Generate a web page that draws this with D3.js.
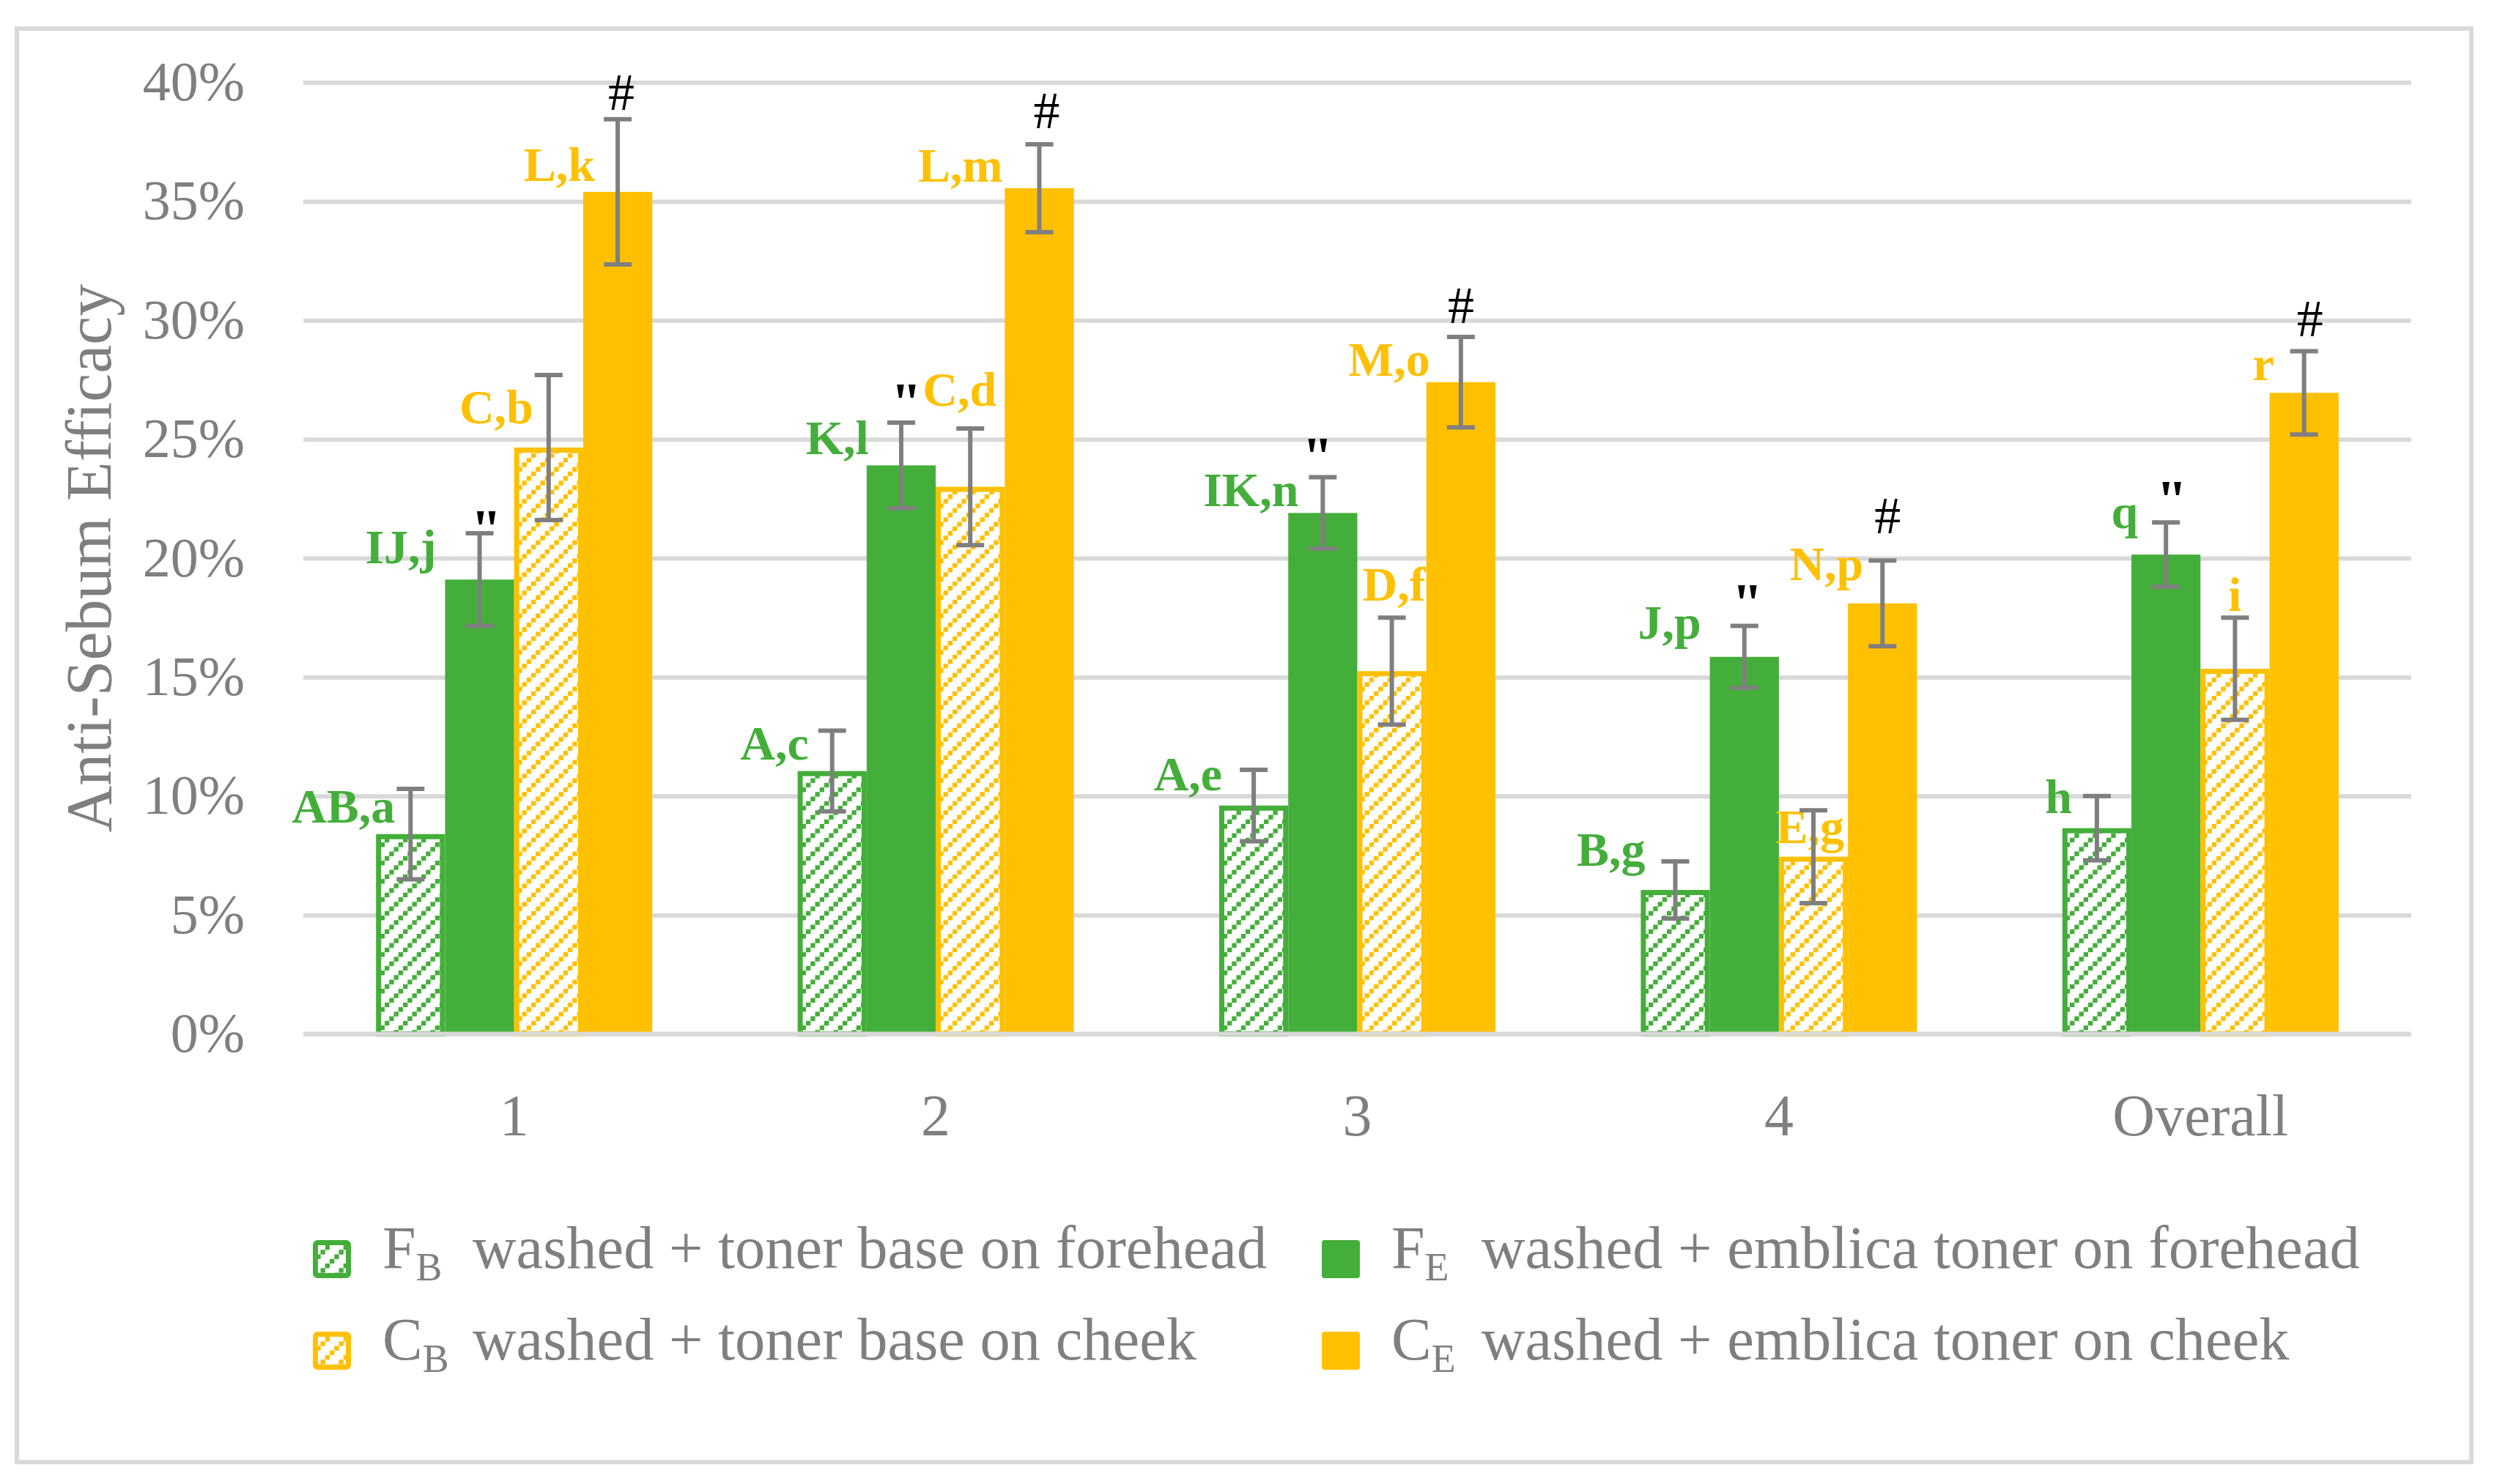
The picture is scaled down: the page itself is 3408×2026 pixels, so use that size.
<!DOCTYPE html>
<html lang="en">
<head>
  <meta charset="UTF-8" />
  <title>Anti-Sebum Efficacy</title>
  <script src="https://d3js.org/d3.v7.min.js"></script>
  <style>
    body { margin: 0; background: #fff; }
    svg, svg text { font-family: "Palatino Linotype", "Book Antiqua", Palatino, "Liberation Serif", serif; }
    svg { display: block; }
    .tick line { stroke: #d9d9d9; stroke-width: 6; }
    .domain { display: none; }
  </style>
</head>
<body>
  <div id="chart"></div>

  <script>
    // Data (values in %)
    const categories = ['1', '2', '3', '4', 'Overall'];
    const seriesKeys = ['FB', 'FE', 'CB', 'CE'];

    const valFB = [8.4, 11.05, 9.6, 6.05, 8.65];
    const errFB = [1.9, 1.7, 1.5, 1.2, 1.35];
    const valFE = [19.1, 23.9, 21.9, 15.85, 20.15];
    const errFE = [1.95, 1.8, 1.5, 1.3, 1.35];
    const valCB = [24.65, 23.0, 15.25, 7.45, 15.35];
    const errCB = [3.05, 2.45, 2.25, 1.95, 2.15];
    const valCE = [35.4, 35.55, 27.4, 18.1, 26.95];
    const errCE = [3.05, 1.85, 1.9, 1.8, 1.75];

    const lettersFB = ['AB,a', 'A,c', 'A,e', 'B,g', 'h'];
    const lettersFE = ['IJ,j', 'K,l', 'IK,n', 'J,p', 'q'];
    const lettersCB = ['C,b', 'C,d', 'D,f', 'E,g', 'i'];
    const lettersCE = ['L,k', 'L,m', 'M,o', 'N,p', 'r'];
    const markFE = '"';
    const markCE = '#';

    const yTicks = [0, 5, 10, 15, 20, 25, 30, 35, 40];

    const legendSymbols = [['F', 'B'], ['F', 'E'], ['C', 'B'], ['C', 'E']];
    const legendTexts = ['washed + toner base on forehead', 'washed + emblica toner on forehead',
                         'washed + toner base on cheek', 'washed + emblica toner on cheek'];

    // Series table
    const series = [
      { key: 'FB', vals: valFB, errs: errFB, letters: lettersFB, color: '#44ae3a', hatch: true },
      { key: 'FE', vals: valFE, errs: errFE, letters: lettersFE, color: '#44ae3a', hatch: false, mark: markFE },
      { key: 'CB', vals: valCB, errs: errCB, letters: lettersCB, color: '#ffc000', hatch: true },
      { key: 'CE', vals: valCE, errs: errCE, letters: lettersCE, color: '#ffc000', hatch: false, mark: markCE }
    ];

    // Layout: hand placed label nudges (px, relative to error bar top and bar centre)
    const labelDx = [[-21, -32, -43, -41, -34], [-59, -44, -33, -59, -38], [-21, 36, 46, 42, 9], [-31, -50, -42, -26, -41]];
    const labelDy = [[46, 40, 28, 6, 23], [41, 43, 39, 17, 8], [66, -31, -23, 45, -9], [84, 51, 53, 27, 40]];
    const markDx = [[9, 7, -7, 4, 8], [5, 10, 0, 7, 8]];
    const markDy = [[-8, -30, -31, -34, -33], [-13, -22, -19, -37, -20]];

    const W = 3408, H = 2026;
    const grey = '#7f7f7f';
    const serif = '"Palatino Linotype", "Book Antiqua", Palatino, "Liberation Serif", serif';

    const svg = d3.select('#chart').append('svg')
      .attr('width', W).attr('height', H)
      .attr('viewBox', `0 0 ${W} ${H}`);

    // Patterns
    const defs = svg.append('defs');
    function hatchPattern(id, color) {
      const p = defs.append('pattern').attr('id', id)
        .attr('patternUnits', 'userSpaceOnUse').attr('width', 25).attr('height', 25);
      p.append('rect').attr('width', 25).attr('height', 25).attr('fill', '#fff');
      [0, 1, 2, 3].forEach(k => {
        p.append('rect').attr('x', k * 6.25).attr('y', 18.75 - k * 6.25)
          .attr('width', 6.4).attr('height', 6.4).attr('fill', color);
      });
    }
    hatchPattern('hatch-FB', '#44ae3a');
    hatchPattern('hatch-CB', '#ffc000');

    // Outer frame
    svg.append('rect').attr('x', 23).attr('y', 39).attr('width', 3350).attr('height', 1957)
      .attr('fill', 'none').attr('stroke', '#d9d9d9').attr('stroke-width', 6);

    // Scales
    const x0 = d3.scaleBand().domain(categories).range([414, 3291]);
    const groupW = 377;
    const x1 = d3.scaleBand().domain(seriesKeys).range([0, groupW]);
    const gx = c => x0(c) + (x0.bandwidth() - groupW) / 2;
    const y = d3.scaleLinear().domain([0, 40]).range([1411.5, 112.5]);

    // Y axis with gridlines
    const yAxis = svg.append('g').attr('transform', 'translate(414,0)')
      .call(d3.axisLeft(y).tickValues(yTicks).tickSize(-2877).tickPadding(80).tickFormat(d => d + '%'))
      .attr('font-family', serif);
    yAxis.selectAll('text').attr('dy', null).attr('y', 24)
      .attr('fill', grey).style('font-size', '76px');

    // Y title
    svg.append('text')
      .attr('transform', `translate(151,${(y(0) + y(40)) / 2}) rotate(-90)`)
      .attr('text-anchor', 'middle').attr('fill', grey).style('font-size', '88px')
      .text('Anti-Sebum Efficacy');

    // Bars
    series.forEach(s => {
      const g = svg.append('g');
      categories.forEach((c, j) => {
        const bx = gx(c) + x1(s.key), bw = x1.bandwidth();
        const top = y(s.vals[j]), base = y(0);
        if (s.hatch) {
          g.append('rect').attr('x', bx + 3.5).attr('y', top + 3.5)
            .attr('width', bw - 7).attr('height', base - top - 3.5)
            .attr('fill', `url(#hatch-${s.key})`).attr('stroke', s.color).attr('stroke-width', 7);
        } else {
          g.append('rect').attr('x', bx).attr('y', top)
            .attr('width', bw).attr('height', base - top).attr('fill', s.color);
        }
      });
    });

    // Baseline on top
    svg.append('line').attr('x1', 414).attr('x2', 3291).attr('y1', y(0)).attr('y2', y(0))
      .attr('stroke', '#d9d9d9').attr('stroke-width', 6);

    // Letter labels and marks
    series.forEach((s, i) => {
      categories.forEach((c, j) => {
        const cx = gx(c) + x1(s.key) + x1.bandwidth() / 2;
        const et = y(s.vals[j] + s.errs[j]);
        svg.append('text')
          .attr('x', cx + labelDx[i][j]).attr('y', et + labelDy[i][j])
          .attr('text-anchor', 'end').attr('fill', s.color)
          .style('font-size', '66px').style('font-weight', 'bold')
          .text(s.letters[j]);
        if (s.mark) {
          const m = s.key === 'FE' ? 0 : 1;
          const isQuote = s.mark === '"';
          svg.append('text')
            .attr('x', cx + markDx[m][j])
            .attr('y', et + markDy[m][j] + (isQuote ? 28 : 0))
            .attr('text-anchor', 'middle').attr('fill', '#000')
            .style('font-size', isQuote ? '76px' : '72px')
            .style('font-weight', isQuote ? 'bold' : 'normal')
            .text(s.mark);
        }
      });
    });

    // Error bars
    series.forEach(s => {
      categories.forEach((c, j) => {
        const cx = gx(c) + x1(s.key) + x1.bandwidth() / 2;
        const hi = y(s.vals[j] + s.errs[j]), lo = y(s.vals[j] - s.errs[j]);
        const g = svg.append('g').attr('stroke', grey).attr('stroke-width', 6);
        g.append('line').attr('x1', cx).attr('x2', cx).attr('y1', hi).attr('y2', lo);
        g.append('line').attr('x1', cx - 19).attr('x2', cx + 19).attr('y1', hi).attr('y2', hi);
        g.append('line').attr('x1', cx - 19).attr('x2', cx + 19).attr('y1', lo).attr('y2', lo);
      });
    });

    // X axis labels
    const xAxis = svg.append('g').attr('transform', `translate(0,${y(0)})`)
      .call(d3.axisBottom(x0).tickSize(0).tickPadding(0))
      .attr('font-family', serif);
    xAxis.selectAll('text').attr('dy', null).attr('y', 138)
      .attr('fill', grey).style('font-size', '80px');

    // Legend
    const legX = [427, 1804], legY = [1731, 1856];
    series.forEach((s, i) => {
      const col = i % 2, row = Math.floor(i / 2);
      const lx = legX[col], ly = legY[row];
      const g = svg.append('g');
      if (s.hatch) {
        g.append('rect').attr('x', lx + 3.5).attr('y', ly - 38 + 3.5).attr('width', 45).attr('height', 45)
          .attr('rx', 3).attr('fill', `url(#hatch-${s.key})`).attr('stroke', s.color).attr('stroke-width', 7);
      } else {
        g.append('rect').attr('x', lx).attr('y', ly - 38).attr('width', 52).attr('height', 52)
          .attr('rx', 4).attr('fill', s.color);
      }
      const t = g.append('text').attr('x', lx + 95).attr('y', ly).attr('fill', grey).style('font-size', '82px');
      t.append('tspan').text(legendSymbols[i][0]);
      t.append('tspan').attr('dy', 17).style('font-size', '54px').text(legendSymbols[i][1]);
      g.append('text').attr('x', lx + 218).attr('y', ly).attr('fill', grey).style('font-size', '82.5px')
        .text(legendTexts[i]);
    });
  </script>
</body>
</html>
